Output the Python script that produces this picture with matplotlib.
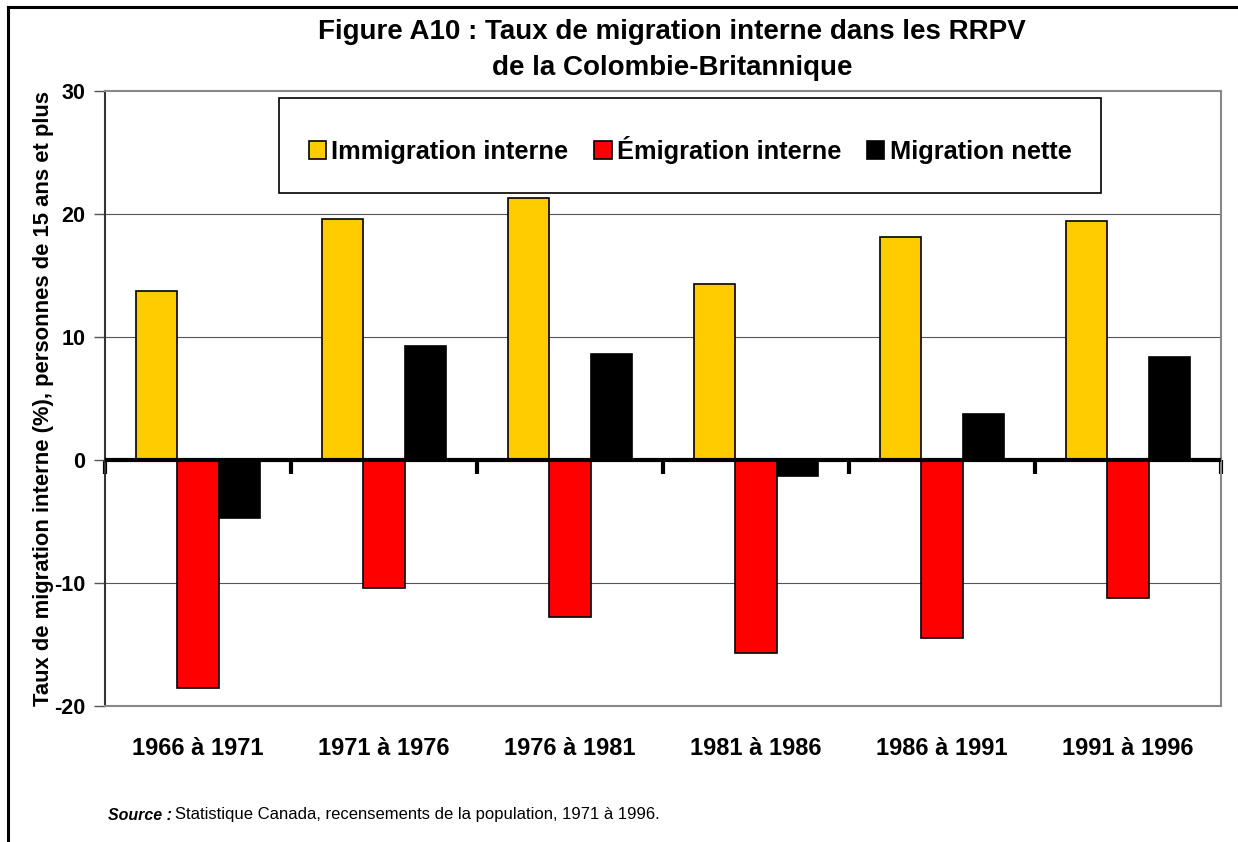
import matplotlib
matplotlib.use("Agg")
import matplotlib.pyplot as plt
from matplotlib.lines import Line2D
from matplotlib.patches import Rectangle
import numpy as np

plt.rcParams['font.family'] = ['Liberation Sans', 'DejaVu Sans']

periods = ["1966 à 1971", "1971 à 1976", "1976 à 1981", "1981 à 1986", "1986 à 1991", "1991 à 1996"]
immigration = [13.7, 19.6, 21.3, 14.3, 18.1, 19.4]
emigration = [-18.5, -10.4, -12.8, -15.7, -14.5, -11.2]
nette = [-4.7, 9.3, 8.6, -1.3, 3.7, 8.4]
series_names = ["Immigration interne", "Émigration interne", "Migration nette"]
colors = ["#FFCC00", "#FF0000", "#000000"]
yticks = [-20, -10, 0, 10, 20, 30]

W, H = 1238, 842
fig = plt.figure(figsize=(W / 100, H / 100), dpi=100)
ax = fig.add_axes([105 / W, (H - 706) / H, 1116 / W, 615 / H])

x = np.arange(len(periods))
bw = 0.223
for i, (vals, name, c) in enumerate(zip([immigration, emigration, nette], series_names, colors)):
    ax.bar(x + (i - 1) * bw, vals, width=bw, color=c, edgecolor='black', linewidth=1.2,
           label=name, zorder=3)

ax.set_xlim(-0.5, len(periods) - 0.5)
ax.set_ylim(-20, 30)
ax.set_yticks(yticks)
ax.set_yticklabels([str(v) for v in yticks], fontsize=15.5, fontweight='bold')
for v in yticks:
    if v not in (0, -20, 30):
        ax.axhline(v, color='#555555', linewidth=0.8, zorder=1)
ax.axhline(0, color='black', linewidth=3, zorder=4)

ax.set_xticks(x)
ax.set_xticklabels(periods, fontsize=17, fontweight='bold')
ax.tick_params(axis='x', length=0, pad=22)
ax.tick_params(axis='y', direction='out', length=8, width=1, color='#555555', pad=6)

for s in ['top', 'right', 'bottom']:
    ax.spines[s].set_color('#888888')
    ax.spines[s].set_linewidth(1.5)
ax.spines['left'].set_color('#333333')
ax.spines['left'].set_linewidth(1.5)

# category boundary ticks on the zero line
sec = ax.secondary_xaxis(0.4)
sec.spines['bottom'].set_visible(False)
sec.spines['top'].set_visible(False)
sec.xaxis.set_ticks_position('bottom')
sec.set_xticks(np.arange(len(periods) + 1) - 0.5)
sec.tick_params(axis='x', direction='out', length=10, width=3, color='black', labelbottom=False, labeltop=False)

ax.set_ylabel("Taux de migration interne (%), personnes de 15 ans et plus",
              fontsize=15.8, fontweight='bold', labelpad=0.5)

# legend box
box = Rectangle((279 / W, 1 - 193 / H), (1101 - 279) / W, 95 / H, transform=fig.transFigure,
                facecolor='white', edgecolor='black', linewidth=1.2, zorder=9)
fig.add_artist(box)
leg = fig.legend(*ax.get_legend_handles_labels(), loc='center',
                 bbox_to_anchor=(690 / W, 1 - 150 / H),
                 ncol=3, frameon=False,
                 prop={'weight': 'bold', 'size': 18.3}, handlelength=0.7, handleheight=0.7,
                 handletextpad=0.2, columnspacing=1.0, borderpad=0, borderaxespad=0)
leg.set_zorder(10)

fig.text(672 / W, 1 - 32 / H, "Figure A10 : Taux de migration interne dans les RRPV",
         ha='center', va='center', fontsize=20, fontweight='bold')
fig.text(672 / W, 1 - 68 / H, "de la Colombie-Britannique",
         ha='center', va='center', fontsize=20, fontweight='bold')

fig.text(108 / W, 1 - 815 / H, "Source :", ha='left', va='center', fontsize=11.5,
         fontweight='bold', fontstyle='italic')
fig.text(175 / W, 1 - 815 / H, "Statistique Canada, recensements de la population, 1971 à 1996.",
         ha='left', va='center', fontsize=12)

fig.add_artist(Line2D([8 / W, 8 / W], [0, 1 - 7 / H], color='black', linewidth=2.2,
                      transform=fig.transFigure))
fig.add_artist(Line2D([8 / W, 1], [1 - 7 / H, 1 - 7 / H], color='black', linewidth=2.2,
                      transform=fig.transFigure))

fig.savefig("out.png", dpi=100)
